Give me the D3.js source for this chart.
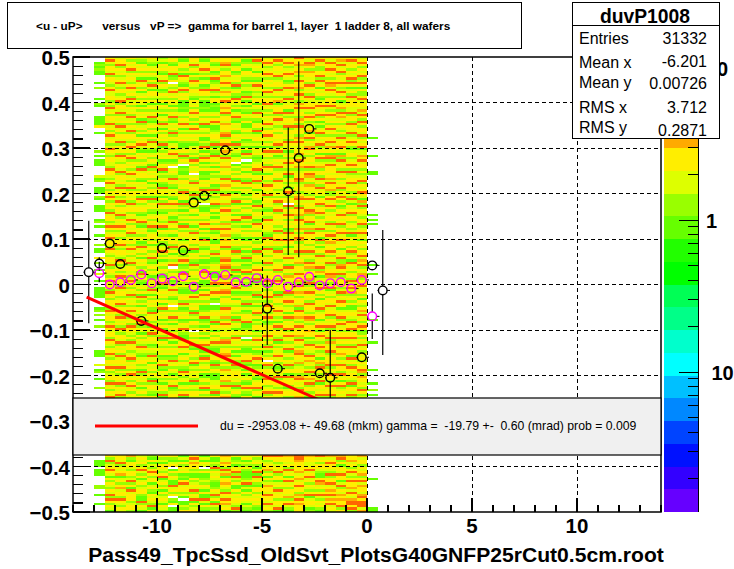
<!DOCTYPE html>
<html><head><meta charset="utf-8">
<script src="https://cdn.jsdelivr.net/npm/d3@7"></script>
<style>html,body{margin:0;padding:0;background:#fff}svg{display:block}text{font-family:"Liberation Sans",Arial,sans-serif}</style>
</head><body><svg id="c" width="734" height="569"></svg>
<script>
// Colour palette, bottom to top of the colour bar
const paletteColors = ["#6600ff","#3300ff","#0011ff","#0044ff","#0088ff","#00c0ff","#00ffff","#00ffcc","#00ff88","#00ff55","#00ff00","#22ff00","#66ff00","#99ff00","#ddff00","#ffee00","#ffaa00","#ff6600","#ff3300","#ff0000"];
// Heat cell level -> palette index (level 0 = empty)
const heatLevelPalette = [null,12,13,14,15,15,16,17];
const xBinWidth = 0.5, yBinHeight = 0.005, yTop = 0.5;
const firstDenseX = -12.5, firstDenseRow = 0, lowerFirstRow = 174;
// Hand-estimated bin levels per column, top to bottom (fine structure is approximate)
const heatUpper = [
"4732453724 5324733452 4273524437 3425734523 7432453327 4532473425 3742534273 4523742357 3442753245 3724532473 4527342453 2743452374 3542743254 7324537423 4527342537",
"3547243523 4732542347 2453724352 7342543724 3527432453 7245342734 5237424537 2434752342 5473245327 4235247345 2734523472 5342743527 3245372435 2734537242 4537243572",
"4253472435 3247534273 5243427352 4372543247 3524725342 4735243724 5342734524 3742534725 3424735243 7245342374 5243725342 4735234274 5324273452 3472534247 3524735243",
"3214352431 7342413524 3142534172 3425143473 2153424317 3452143524 3174234521 3472143524 3127342514 3524173421 3524173241 5342413724 3152432743 2135423172 4352413524",
"4321342531 4273145324 1352437213 4253142734 2135243172 4352413245 3172435213 5243721345 2413524372 1352431243 5273142435 2173452314 3724531243 2735143524 3172453214",
"2314352143 7243125324 1432513427 3142435271 3243512437 1324521734 3142735213 4325714324 5213473241 3524321457 2134352413 7243513241 3527143243 5124372153 4231435271",
"3421543712 4032473524 3152437214 3527243135 2473512403 4327352143 5214735243 1273524314 3527241352 4703243512 4373521340 4253724135 2437315243 5127342431 5243712354",
"2134523174 3214725341 1121342537 4132435211 3527243012 1132453427 3541723142 3241732453 1354213247 4123174352 4211354273 1243512437 3211245734 1352432174 2351342471",
"4537243152 7432453214 3524734251 4732435213 5324174253 4035273452 7214352431 5243142735 4523714352 1732453241 3521473243 5172314524 0352437214 3524713243 5271432453",
"2134573241 3412745231 1121352437 1432511327 3142741325 1121435273 2413021135 3247415231 7342135241 1324735411 2314735241 1243712314 5241347211 3174235241 1352471423",
"3421351247 1234723145 1211342573 1123543271 3217342514 1324351271 4235712413 1352472134 1143527311 2435111347 2537431201 1345327143 1524373211 4352172431 1133452714",
"4567325463 4752364257 3465724536 4536724573 4652735463 5427356432 7453624753 4526375463 6547245367 4672356247 5367425432 7453624753 3542673254 6734252643 4562743256",
"3421351243 5271342174 3241357214 3521435172 4321340132 5241734251 4327134251 4713254321 5342172431 3527141325 4731251432 5324172431 3527435241 3142172354 4352713421",
"3124314532 1423312731 4132143251 1342351231 4173201324 1342174253 1324152431 7324152431 1432513271 3124714232 1351243271 3124537112 3420143211 3457213141 3421573214",
"4723531452 1473523245 1432735214 4271345231 5342123547 2143724513 5431273245 3127432541 3254172453 1347523712 4352713241 3572413245 1324735241 2473512345 2135472431",
"3475234752 4352473245 7342524357 3245734251 4735234275 3145237453 7245342153 2743543217 3542735243 7242534573 1324573247 5324731245 3574242731 3250472453 2745234725",
"5732453472 3542735246 1345724735 2342543572 4731253472 3542734523 5247234725 4345237245 7342173542 3457243275 3451724523 4735231472 5432714253 4735231243 7254324753",
"3574234753 1247354273 3541732453 7245342753 4135247352 4713523147 3245072437 5243512743 7431532473 4173526432 4537234752 3415724357 2473524371 3524372541 7354213542",
"7456346523 7456247352 6473542652 7345264753 4562375462 3547623542 5673427456 2754365247 6253472534 6245375462 7436524536 1745632573 4562753246 7453623542 6743527546",
"4376526453 4275342753 5473247523 3561472536 7342553472 4763526543 2473453762 5471362754 3425372532 7462543627 2537435274 5324763254 6451327543 2746342572 4637254231",
"4735224572 7341534213 5743472513 1347253472 3415723462 5427342734 3154725473 2435372541 7241352734 3472651352 4734251453 7235413573 1475324752 3415627342 5371453472",
"5374574352 4763753245 4732574352 4735245736 3516723745 4356374562 2473574253 4527342573 4634574253 7235476352 4713524537 3547243572 4537263547 2354472537 4523735472",
"4637347253 4752374241 3562746352 4325273547 4316273452 7342534725 3742512437 5347245734 7354153472 2674372345 5237243745 1345725734 2547352734 6425374527 3415723534",
"4735425347 2741352734 5433725427 4537234752 1345235742 7234573452 4273153472 5423523714 3452472351 7435245273 4736235241 1345327547 2457342735 4173427534 5327145372",
"3475243572 3741522473 4536374275 2543724357 1336473542 5234725347 4316272453 2547234735 1435245736 4725366245 7345241532 5637342475 1242537342 5342435762 6453427523"
];
const heatLower = [
"4527235743 1425324372 742531","2543725346 1352463542 743243","3621543254 2372417354 523542","1343524732 5134235421 172431","3214132475 2451352143 432713",
"1423145325 7134251423 531432","3421340152 5311734250 214011","1131425341 2147345231 011324","4573654231 1423437243 714235","2131430241 1232431511 731421",
"3411327243 5321124372 417323","4653652736 1456432753 746351","3412315472 7324114253 543272","1341324211 1237131423 431321","5423421371 7342154243 534212",
"3742354625 1423654375 437342","6745234372 5413427345 254371","7654342735 1573524436 257321","7776554463 5634745263 746544","7654334735 7352532471 345312",
"4735245321 1476342573 253421","5634745327 2457346573 647353","3672415437 5413725364 654724","7456342573 2574563743 677472","7635425346 2473654367 577736"
];
// Sparse outer columns: [row, level]
const sparseLeft = [[2,1],[3,2],[4,1],[5,2],[6,1],[7,1],[11,1],[13,2],[18,1],[20,2],[21,1],[26,1],[27,1],[28,1],[29,1],[30,4],[33,1],[41,2],[43,1],[45,1],[46,1],[47,1],[52,3],[53,1],[54,2],[57,1],[58,1],[59,1],[61,2],[62,1],[65,1],[66,1],[67,1],[71,1],[72,2],[74,1],[78,1],[82,2],[84,1],[85,1],[88,4],[90,2],[93,1],[95,3],[98,1],[101,1],[102,1],[103,1],[104,1],[105,1],[110,1],[111,2],[113,2],[115,1],[118,2],[129,1],[130,1],[131,1],[135,3],[137,1],[138,2],[141,1],[145,2],[177,1],[178,1],[179,1],[181,1],[182,1],[183,1],[188,2],[189,2],[192,1],[196,1]];
const sparseRight = [[35,1],[43,1],[50,1],[51,1],[69,1],[71,1],[73,1],[91,1],[95,1],[115,1],[125,1],[137,1],[143,1],[146,2],[148,1],[185,1],[198,1],[199,1]];

const xMajor = [-10,-5,0,5,10];
const xMinor = [-14,-13,-12,-11,-9,-8,-7,-6,-4,-3,-2,-1,1,2,3,4,6,7,8,9,11,12,13,14];
const yMajor = [0.5,0.4,0.3,0.2,0.1,0,-0.1,-0.2,-0.3,-0.4,-0.5];
const yMinor = [0.48,0.46,0.44,0.42,0.38,0.36,0.34,0.32,0.28,0.26,0.24,0.22,0.18,0.16,0.14,0.12,0.08,0.06,0.04,0.02,-0.02,-0.04,-0.06,-0.08,-0.12,-0.14,-0.16,-0.18,-0.22,-0.24,-0.26,-0.28,-0.32,-0.34,-0.36,-0.38,-0.42,-0.44,-0.46,-0.48];

// Black profile points: x, y, low, high
const blackX = [-13.25,-12.75,-12.25,-11.75,-10.75,-9.75,-8.75,-8.25,-7.75,-6.75,-4.75,-4.25,-3.75,-3.25,-2.75,-2.25,-1.75,-0.25,0.25,0.75];
const blackY = [0.027,0.046,0.09,0.045,-0.08,0.08,0.075,0.18,0.195,0.295,-0.053,-0.185,0.205,0.278,0.342,-0.195,-0.205,-0.16,0.042,-0.013];
const blackLow = [-0.085,0.03,0.085,0.04,-0.085,0.075,0.07,0.175,0.19,0.29,-0.133,-0.19,0.065,0.06,0.337,-0.2,-0.32,-0.165,0.037,-0.155];
const blackHigh = [0.14,0.06,0.095,0.05,-0.075,0.085,0.08,0.185,0.2,0.3,0.02,-0.18,0.345,0.49,0.347,-0.19,-0.1,-0.155,0.047,0.12];
// Magenta profile points
const magentaX = [-12.75,-12.25,-11.75,-11.25,-10.75,-10.25,-9.75,-9.25,-8.75,-8.25,-7.75,-7.25,-6.75,-6.25,-5.75,-5.25,-4.75,-4.25,-3.75,-3.25,-2.75,-2.25,-1.75,-1.25,-0.75,-0.25,0.25];
const magentaY = [0.025,0.0,0.005,0.01,0.022,0.003,0.013,0.007,0.018,-0.005,0.023,0.017,0.021,0.005,0.006,0.014,0.003,0.01,-0.005,0.005,0.017,-0.002,0.003,0.005,-0.009,0.01,-0.07];
const magentaLow = [0.005,-0.004,0.001,0.006,0.018,-0.001,0.009,0.003,0.014,-0.009,0.019,0.013,0.017,0.001,0.002,0.01,-0.001,0.006,-0.009,0.001,0.013,-0.006,-0.001,0.001,-0.013,0.006,-0.12];
const magentaHigh = [0.05,0.004,0.009,0.014,0.026,0.007,0.017,0.011,0.022,-0.001,0.027,0.021,0.025,0.009,0.01,0.018,0.007,0.014,-0.001,0.009,0.021,0.002,0.007,0.009,-0.005,0.014,-0.02];
// Fit line end points
const fitX = [-13.35,0];
const fitY = [-0.028,-0.3];

const titleText = "<u - uP>      versus   vP =>  gamma for barrel 1, layer  1 ladder 8, all wafers";
const xTitle = "Pass49_TpcSsd_OldSvt_PlotsG40GNFP25rCut0.5cm.root";
const fitText = "du = -2953.08 +- 49.68 (mkm) gamma =  -19.79 +-  0.60 (mrad) prob = 0.009";
const statName = "duvP1008";
const statLabels = ["Entries","Mean x","Mean y","RMS x","RMS y"];
const statValues = ["31332","-6.201","0.00726","3.712","0.2871"];
const cbMajor = [10,1,0.1];
const cbMinor = [3,2,0.9,0.8,0.7,0.6,0.5,0.4,0.3,0.2,0.09,0.08,0.07,0.06,0.05,0.04,0.03,0.02];

const svg = d3.select("#c");
const x = d3.scaleLinear().domain([-14,14]).range([73,661]);
const y = d3.scaleLinear().domain([-0.5,0.5]).range([512,57]);
const yRowTop = r => y(yTop - r*yBinHeight);
const colorOf = l => paletteColors[heatLevelPalette[l]];

// Heat cells
const cells = [];
const clean = s => s.replace(/ /g,"");
heatUpper.forEach((s,c)=>{clean(s).slice(0,150).split("").forEach((ch,i)=>cells.push({c,r:firstDenseRow+i,l:+ch}));});
heatLower.forEach((s,c)=>{clean(s).split("").forEach((ch,i)=>cells.push({c,r:lowerFirstRow+i,l:+ch}));});
sparseLeft.forEach(d=>cells.push({c:-1,r:d[0],l:d[1]}));
sparseRight.forEach(d=>cells.push({c:25,r:d[0],l:d[1]}));
svg.append("g").attr("shape-rendering","crispEdges").selectAll("rect").data(cells.filter(d=>d.l>0)).join("rect")
  .attr("x",d=>x(firstDenseX+d.c*xBinWidth))
  .attr("width",d=>x(firstDenseX+(d.c+1)*xBinWidth)-x(firstDenseX+d.c*xBinWidth))
  .attr("y",d=>yRowTop(d.r)).attr("height",d=>yRowTop(d.r+1)-yRowTop(d.r))
  .attr("fill",d=>colorOf(d.l));

// Dashed grid
const grid = svg.append("g").attr("stroke","#000").attr("stroke-width",1).attr("stroke-dasharray","4 3").attr("shape-rendering","crispEdges");
grid.selectAll(".v").data(xMajor).join("line").attr("x1",x).attr("x2",x).attr("y1",57).attr("y2",512);
grid.selectAll(".h").data(yMajor.slice(1,-1)).join("line").attr("y1",y).attr("y2",y).attr("x1",73).attr("x2",661);

// Error bars and hollow markers: lines stop at the marker edge
const markerRadius = 4.3;
function profile(xs,ys,lo,hi,color){
  const g = svg.append("g");
  const idx = d3.range(xs.length);
  const seg = (cls,x1,x2,y1,y2,w) => g.selectAll("."+cls).data(idx).join("line").attr("class",cls)
    .attr("x1",x1).attr("x2",x2).attr("y1",y1).attr("y2",y2).attr("stroke","#000").attr("stroke-width",w);
  seg("up",i=>x(xs[i]),i=>x(xs[i]),i=>y(hi[i]),i=>Math.max(y(hi[i]),y(ys[i])-markerRadius),1.2);
  seg("dn",i=>x(xs[i]),i=>x(xs[i]),i=>Math.min(y(lo[i]),y(ys[i])+markerRadius),i=>y(lo[i]),1.2);
  seg("lf",i=>x(xs[i]-0.25),i=>x(xs[i])-markerRadius,i=>y(ys[i]),i=>y(ys[i]),1);
  seg("rt",i=>x(xs[i])+markerRadius,i=>x(xs[i]+0.25)+2,i=>y(ys[i]),i=>y(ys[i]),1);
  g.selectAll("path").data(idx).join("path")
    .attr("d",d3.symbol(d3.symbolCircle,Math.PI*markerRadius*markerRadius)())
    .attr("transform",i=>`translate(${x(xs[i])},${y(ys[i])})`)
    .attr("fill","none").attr("stroke",color).attr("stroke-width",1.4);
}
profile(blackX,blackY,blackLow,blackHigh,"#000");
profile(magentaX,magentaY,magentaLow,magentaHigh,"#ff00ff");

// Fit line
svg.append("path").attr("d",d3.line().x(d=>x(d[0])).y(d=>y(d[1]))(d3.zip(fitX,fitY))).attr("stroke","#ff0000").attr("stroke-width",3).attr("fill","none");

// Axes ticks
const axG = svg.append("g").attr("stroke","#000").attr("stroke-width",1.2).attr("shape-rendering","crispEdges");
axG.selectAll(".ym").data(yMajor).join("line").attr("x1",73).attr("x2",90).attr("y1",y).attr("y2",y);
axG.selectAll(".yn").data(yMinor).join("line").attr("x1",73).attr("x2",83).attr("y1",y).attr("y2",y);
axG.selectAll(".xm").data(xMajor).join("line").attr("x1",x).attr("x2",x).attr("y1",512).attr("y2",498);
axG.selectAll(".xn").data(xMinor).join("line").attr("x1",x).attr("x2",x).attr("y1",512).attr("y2",505);
svg.append("rect").attr("x",73).attr("y",57).attr("width",588).attr("height",455).attr("fill","none").attr("stroke","#000").attr("stroke-width",1.5);

// Tick labels
svg.selectAll(".yl").data(yMajor).join("text").attr("x",70).attr("y",d=>y(d)+8).attr("text-anchor","end")
  .attr("font-size",20.5).attr("font-weight","bold").text(d=>d3.format("")(d));
svg.selectAll(".xl").data(xMajor).join("text").attr("x",x).attr("y",533).attr("text-anchor","middle")
  .attr("font-size",20.5).attr("font-weight","bold").text(d=>d);
svg.append("text").attr("x",376).attr("y",562).attr("text-anchor","middle").attr("font-size",21.1).attr("font-weight","bold").text(xTitle);

// Fit legend box
svg.append("rect").attr("x",73).attr("y",398).attr("width",588).attr("height",57).attr("fill","#f0f0f0").attr("stroke","#000").attr("stroke-width",1.2);
svg.append("line").attr("x1",95).attr("x2",198).attr("y1",426).attr("y2",426).attr("stroke","#ff0000").attr("stroke-width",3);
svg.append("text").attr("x",220).attr("y",430).attr("font-size",12.25).style("white-space","pre").text(fitText);

// Colour bar
const cbY = d3.scaleLinear().domain([0,20]).range([512,57]);
svg.append("g").attr("shape-rendering","crispEdges").selectAll("rect").data(paletteColors).join("rect")
  .attr("x",664).attr("width",34).attr("y",(d,i)=>cbY(i+1)).attr("height",(d,i)=>cbY(i)-cbY(i+1)).attr("fill",d=>d);
const cbLog = d3.scaleLog().domain([1,0.1]).range([220,372]);
svg.append("line").attr("x1",698).attr("x2",698).attr("y1",57).attr("y2",512).attr("stroke","#000").attr("stroke-width",1).attr("shape-rendering","crispEdges");
const cbG = svg.append("g").attr("stroke","#000").attr("stroke-width",1).attr("shape-rendering","crispEdges");
cbG.selectAll(".a").data(cbMajor).join("line").attr("x1",679).attr("x2",698).attr("y1",cbLog).attr("y2",cbLog);
cbG.selectAll(".b").data(cbMinor).join("line").attr("x1",688).attr("x2",698).attr("y1",cbLog).attr("y2",cbLog);
svg.selectAll(".cl").data(cbMajor).join("text").attr("x",d=>d===1?706:(d===10?706:711.5)).attr("y",d=>cbLog(d)+8).attr("font-size",20).attr("font-weight","bold").text(d=>d===1?"1":"10");

// Title box
svg.append("rect").attr("x",7.5).attr("y",2.5).attr("width",514).attr("height",46).attr("fill","#fff").attr("stroke","#000").attr("stroke-width",1);
svg.append("text").attr("x",36).attr("y",30).attr("font-size",11.8).attr("font-weight","bold").style("white-space","pre").text(titleText);

// Statistics box
svg.append("rect").attr("x",572.5).attr("y",2.5).attr("width",147).attr("height",136).attr("fill","#fff").attr("stroke","#000").attr("stroke-width",1);
svg.append("line").attr("x1",572).attr("x2",720).attr("y1",25.5).attr("y2",25.5).attr("stroke","#000");
svg.append("text").attr("x",645).attr("y",23).attr("text-anchor","middle").attr("font-size",19.3).attr("font-weight","bold").text(statName);
const statLabelBase = [44,68,88,113,133];
const statValueBase = [44,67,89,113,136];
statLabels.forEach((t,i)=>{
  svg.append("text").attr("x",579).attr("y",statLabelBase[i]).attr("font-size",16).text(t);
  svg.append("text").attr("x",707).attr("y",statValueBase[i]).attr("text-anchor","end").attr("font-size",16).text(statValues[i]);
});
</script></body></html>
